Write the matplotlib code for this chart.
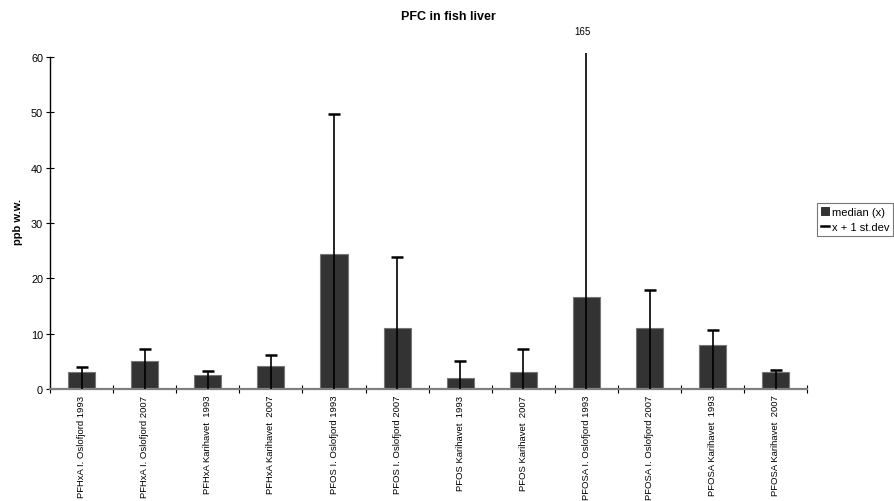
import matplotlib.pyplot as plt
from matplotlib.lines import Line2D
from matplotlib.patches import Patch
import numpy as np

plt.rcParams['font.family'] = ['Liberation Sans', 'DejaVu Sans']

# Values (ppb w.w.)
categories = ['PFHxA I. Oslofjord 1993', 'PFHxA I. Oslofjord 2007',
              'PFHxA Karihavet  1993', 'PFHxA Karihavet  2007',
              'PFOS I. Oslofjord 1993', 'PFOS I. Oslofjord 2007',
              'PFOS Karihavet  1993', 'PFOS Karihavet  2007',
              'PFOSA I. Oslofjord 1993', 'PFOSA I. Oslofjord 2007',
              'PFOSA Karihavet  1993', 'PFOSA Karihavet  2007']
median = [3.1, 5.0, 2.5, 4.1, 24.4, 11.0, 2.0, 3.1, 16.6, 11.0, 7.9, 3.1]
stdev = [0.9, 2.2, 0.7, 2.1, 25.3, 12.9, 3.1, 4.1, 148.4, 6.9, 2.8, 0.3]

fig = plt.figure(figsize=(8.94, 5.02), dpi=100)
ax = fig.add_axes([0.056, 0.223, 0.847, 0.670])

x = np.arange(len(categories))
upper = np.array(median) + np.array(stdev)
ax.bar(x, median, width=0.43, color='#333333', edgecolor='#777777',
       linewidth=0.8, zorder=2)
# error line runs from the base through the bar up to x + 1 st.dev
ax.vlines(x, 0, upper, color='black', linewidth=1.2, zorder=3)
ax.plot(x, upper, linestyle='none', marker='_', markersize=9,
        markeredgewidth=1.8, color='black', zorder=3)

# value of the clipped error bar
i_big = int(np.argmax(upper))
ax.annotate('%d' % round(upper[i_big]),
            xy=(x[i_big], 1.0), xycoords=('data', 'axes fraction'),
            xytext=(-3, 12), textcoords='offset points',
            ha='center', va='bottom', fontsize=7)

ax.set_xlim(-0.5, len(categories) - 0.5)
ax.set_ylim(0, 60.8)
ax.set_yticks(range(0, 61, 10))
ax.set_xticks(np.arange(len(categories) + 1) - 0.5, minor=False)
ax.set_xticklabels([])
ax.set_xticks(x, minor=True)
ax.set_xticklabels(categories, minor=True, rotation=90, fontsize=6.8)
ax.tick_params(axis='x', which='minor', length=0, pad=4)
ax.tick_params(axis='x', which='major', direction='inout', length=6,
               color='black', width=0.8)
ax.tick_params(axis='y', direction='inout', length=6, width=0.8,
               labelsize=7.8, pad=2)

for s in ['top', 'right']:
    ax.spines[s].set_visible(False)
ax.spines['left'].set_bounds(0, 60)
ax.spines['left'].set_linewidth(1.0)
ax.spines['bottom'].set_color('#808080')
ax.spines['bottom'].set_linewidth(1.6)

ax.set_ylabel('ppb w.w.', fontsize=8, fontweight='bold', labelpad=6)
fig.text(0.501, 0.966, 'PFC in fish liver', ha='center', va='center',
         fontsize=9, fontweight='bold')

handles = [Patch(facecolor='#333333', edgecolor='#222222', linewidth=0.6),
           Line2D([0], [0], color='black', linewidth=1.8)]
leg = ax.legend(handles, ['median (x)', 'x + 1 st.dev'],
                loc='upper left', bbox_to_anchor=(0.914, 0.594),
                bbox_transform=fig.transFigure, fontsize=8, frameon=True,
                fancybox=False, edgecolor='#555555', handlelength=0.7,
                handleheight=0.7, handletextpad=0.25, borderpad=0.35,
                labelspacing=0.45, borderaxespad=0)
leg.get_frame().set_linewidth(0.8)

fig.savefig('out.png', dpi=100)
